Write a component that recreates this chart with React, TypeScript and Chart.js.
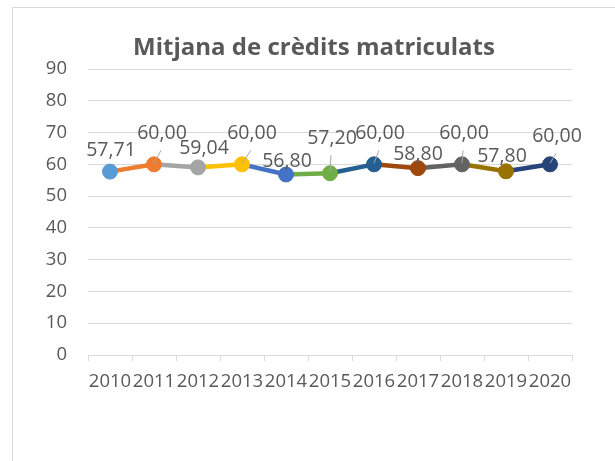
import React, { useEffect, useRef } from "react";
import { Chart, registerables } from "chart.js";

Chart.register(...registerables);

const years = ["2010", "2011", "2012", "2013", "2014", "2015", "2016", "2017", "2018", "2019", "2020"];
const credits = [57.71, 60.0, 59.04, 60.0, 56.8, 57.2, 60.0, 58.8, 60.0, 57.8, 60.0];
const pointColors = ["#5B9BD5", "#ED7D31", "#A5A5A5", "#FFC000", "#4472C4", "#70AD47", "#255E91", "#9E480E", "#636363", "#997300", "#264478"];
// label offsets (px) relative to each point, as manually placed in the source chart
const labelOffsets = [[1, -21], [8, -31], [6, -18.5], [10, -31], [1, -13], [2, -35], [6, -31], [0, -14], [2, -31], [-4, -15], [7, -28]];
const yMin = 0;
const yMax = 90;
const yStep = 10;
const titleText = "Mitjana de crèdits matriculats";

const TEXT = "#595959";
const GRID = "#D9D9D9";
const FONT = '"Open Sans", "Noto Sans", sans-serif';

const fmt = (v: number) => v.toFixed(2).replace(".", ",");

const framePlugin = {
  id: "frame",
  beforeDraw(chart: any) {
    const ctx = chart.ctx;
    ctx.save();
    ctx.fillStyle = "#FFFFFF";
    ctx.fillRect(0, 0, chart.width, chart.height);
    ctx.strokeStyle = GRID;
    ctx.lineWidth = 1;
    ctx.strokeRect(12.5, 7.5, chart.width + 20, chart.height + 20);
    ctx.restore();
  },
  afterDraw(chart: any) {
    const ctx = chart.ctx;
    ctx.save();
    ctx.font = `bold 24px ${FONT}`;
    ctx.fillStyle = TEXT;
    ctx.textAlign = "center";
    ctx.textBaseline = "alphabetic";
    ctx.fillText(titleText, 314, 55);
    ctx.restore();
  },
};

const dataLabelPlugin = {
  id: "dataLabels",
  afterDatasetsDraw(chart: any) {
    const ctx = chart.ctx;
    const meta = chart.getDatasetMeta(0);
    ctx.save();
    ctx.font = `19.5px ${FONT}`;
    ctx.fillStyle = TEXT;
    ctx.textAlign = "center";
    ctx.textBaseline = "middle";
    meta.data.forEach((pt: any, i: number) => {
      const [dx, dy] = labelOffsets[i];
      const lx = pt.x + dx;
      const ly = pt.y + dy;
      if (Math.hypot(dx, dy) > 25) {
        ctx.strokeStyle = "#A6A6A6";
        ctx.lineWidth = 1;
        ctx.beginPath();
        ctx.moveTo(pt.x, pt.y - 1);
        ctx.lineTo(lx - 1, ly + 17);
        ctx.stroke();
      }
      ctx.fillText(fmt(credits[i]), lx, ly);
    });
    ctx.restore();
  },
};

export default function App() {
  const canvasRef = useRef<HTMLCanvasElement | null>(null);

  useEffect(() => {
    if (!canvasRef.current) return;
    const chart = new Chart(canvasRef.current, {
      type: "line",
      data: {
        labels: years,
        datasets: [
          {
            data: credits,
            borderWidth: 4.5,
            borderColor: pointColors[0],
            segment: {
              borderColor: (c: any) => pointColors[c.p1DataIndex],
            },
            pointRadius: 7.5,
            pointBorderWidth: 1,
            pointBackgroundColor: pointColors,
            pointBorderColor: pointColors,
            tension: 0,
            fill: false,
          },
        ],
      },
      options: {
        responsive: false,
        animation: false,
        devicePixelRatio: 1,
        layout: { padding: { left: 12, right: 43, top: 69, bottom: 0 } },
        plugins: {
          legend: { display: false },
          tooltip: { enabled: false },
          title: { display: false },
        },
        scales: {
          x: {
            offset: true,
            grid: { offset: true, drawOnChartArea: false, drawTicks: true, tickLength: 6, color: GRID, lineWidth: 1 },
            border: { display: true, color: GRID, width: 1 },
            ticks: { color: TEXT, font: { family: FONT, size: 18.5 }, padding: 10, maxRotation: 0, autoSkip: false },
            afterFit: (s: any) => {
              s.height = 106;
            },
          },
          y: {
            min: yMin,
            max: yMax,
            ticks: { stepSize: yStep, color: TEXT, font: { family: FONT, size: 18.5 }, padding: 21 },
            grid: { color: GRID, lineWidth: 1, drawTicks: false },
            border: { display: false },
            afterFit: (s: any) => {
              s.width = 76;
            },
          },
        },
      },
      plugins: [framePlugin, dataLabelPlugin],
    } as any);
    return () => chart.destroy();
  }, []);

  return (
    <div style={{ position: "fixed", left: 0, top: 0, width: 615, height: 461 }}>
      <canvas ref={canvasRef} width={615} height={461} style={{ display: "block" }} />
    </div>
  );
}
